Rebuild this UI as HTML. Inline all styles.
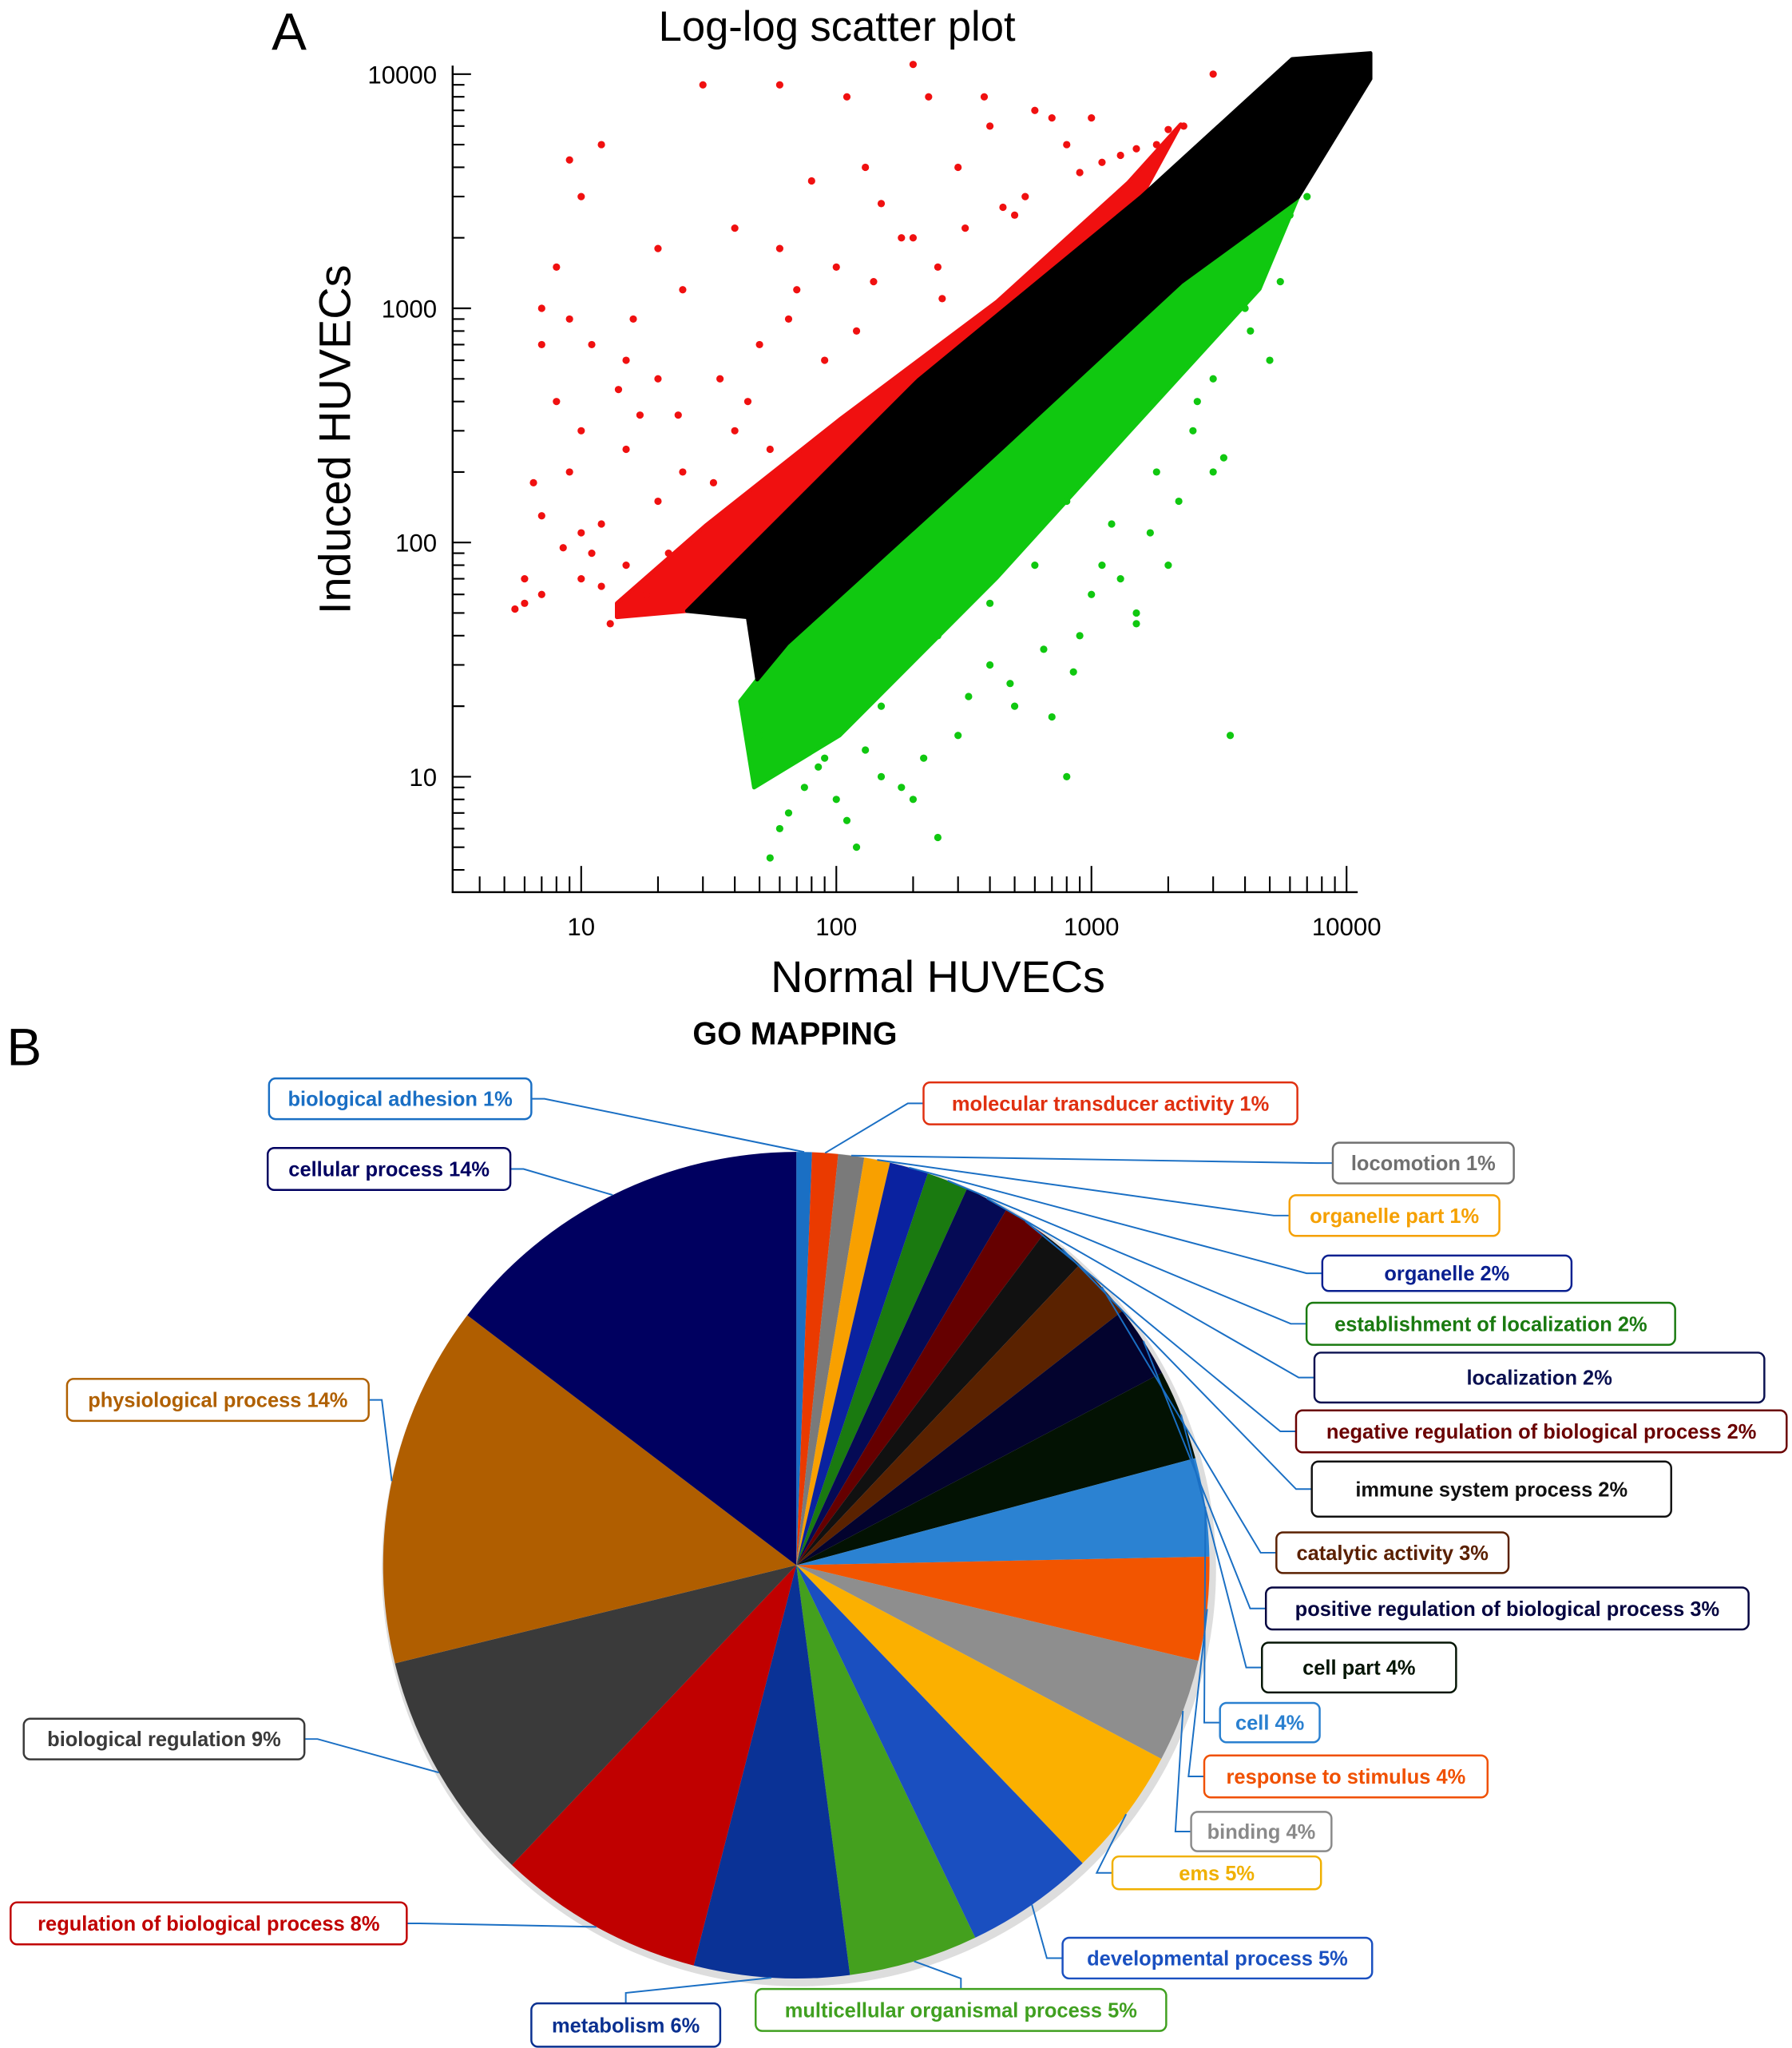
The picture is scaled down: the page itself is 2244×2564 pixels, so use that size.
<!DOCTYPE html>
<html><head><meta charset="utf-8"><style>
html,body{margin:0;padding:0;background:#fff}
svg{display:block}
text{font-family:"Liberation Sans",sans-serif}
.lb{font-family:"Liberation Sans",sans-serif;font-weight:bold;font-size:15.5px}
</style></head><body>
<svg id="s" width="2244" height="2564" viewBox="0 0 1366 1561" xmlns="http://www.w3.org/2000/svg">
<rect width="1366" height="1561" fill="#fff"/>
<text x="207" y="38" font-size="40">A</text>
<text x="638" y="31" font-size="32" text-anchor="middle">Log-log scatter plot</text>
<text transform="translate(267,335) rotate(-90)" font-size="34" text-anchor="middle">Induced HUVECs</text>
<text x="715" y="756" font-size="34" text-anchor="middle">Normal HUVECs</text>
<g id="scatter"></g>
<text x="5" y="812" font-size="40">B</text>
<text x="606" y="796" font-size="24" font-weight="bold" text-anchor="middle" font-family="DejaVu Sans,sans-serif">GO MAPPING</text>
<g id="pie"></g>
<g id="labels"></g>
</svg>
<script>
// ---- scatter data (normal, induced) ----
const blackBandN=[26,209,1567,6120,12400,12400,6460,2240,427,64,49,45];
const blackBandI=[51,492,2990,11600,12300,9550,2990,1290,242,37,26,48];
const redBandN=[13.8,31,103,427,1390,2240,1567,209,26,13.8];
const redBandI=[55,119,335,1070,3430,6100,2990,492,51,48];
const greenBandN=[47.6,103,427,1390,4560,6460,2240,427,64,49,42];
const greenBandI=[9,15,71,293,1210,2990,1290,242,37,26,21];
const redN=[6,6,7,7,8,9,10,12,30,60,200,3000,8,10,15,20,25,40,60,80,100,150,200,300,400,600,800,1000,12,15,18,20,9,11,7,35,50,20,15,120,250,500,40,25,70,130,7,16,5.5,10,13,22,110,230,380,700,1300,1800,2300,9,11,14,17,6.5,8.5,10,12,24,33,45,55,65,90,140,180,260,320,450,550,900,1100,1500,2000];
const redI=[55,70,130,700,1500,4300,3000,5000,9000,9000,11000,10000,400,300,250,1800,1200,2200,1800,3500,1500,2800,2000,4000,6000,7000,5000,6500,120,80,60,150,200,90,60,500,700,500,600,800,1500,2500,300,200,1200,4000,1000,900,52,110,45,90,8000,8000,8000,6500,4500,5000,6000,900,700,450,350,180,95,70,65,350,180,400,250,900,600,1300,2000,1100,2200,2700,3000,3800,4200,4800,5800];
const greenN=[55,60,120,250,800,3500,1500,2000,3000,5000,4000,6000,7000,500,300,200,100,90,150,400,700,1000,1200,2500,50,45,70,600,900,1800,3000,800,150,250,400,1100,1500,2200,3300,5500,65,75,85,110,130,180,220,330,480,650,850,1300,1700,2600,4200];
const greenI=[4.5,6,5,5.5,10,15,45,80,200,600,1000,2500,3000,20,15,8,8,12,10,30,18,60,120,300,15,20,30,80,40,200,500,150,20,40,55,80,50,150,230,1300,7,9,11,6.5,13,9,12,22,25,35,28,70,110,400,800];
const xTickVals=[10,100,1000,10000];
const yTickVals=[10,100,1000,10000];
const NS='http://www.w3.org/2000/svg';
function X(v){return 443+194.5*(Math.log10(v)-1);}
function Y(v){return 592-178.5*(Math.log10(v)-1);}
function mk(tag,attrs,parent){const e=document.createElementNS(NS,tag);for(const k in attrs)e.setAttribute(k,attrs[k]);parent.appendChild(e);return e;}
const sc=document.getElementById('scatter');
function band(ns,is,col,name){
  const pts=ns.map((n,i)=>X(n).toFixed(1)+','+Y(is[i]).toFixed(1)).join(' ');
  const p=mk('polygon',{points:pts,fill:col,stroke:col,'stroke-width':3,'stroke-linejoin':'round'},sc);
  
  
}
band(redBandN,redBandI,'#f01010','up-regulated-dense-region');
band(greenBandN,greenBandI,'#10c810','down-regulated-dense-region');
band(blackBandN,blackBandI,'#000','unchanged-genes-region');
function pts(ns,is,col,name){
  ns.forEach((n,i)=>{const c=mk('circle',{cx:X(n),cy:Y(is[i]),r:2.8,fill:col},sc);
    
    });
}
pts(redN,redI,'#f01010','up-regulated-point');
pts(greenN,greenI,'#10c810','down-regulated-point');
const ax=mk('path',{d:'M345,50 V680 H1035',fill:'none',stroke:'#000','stroke-width':1.5},sc);


let d='';
for(let dec=1;dec<=10000;dec*=10){for(let m=1;m<10;m++){const v=dec*m;
  if(v>3.1&&v<=12500){const x=X(v);d+='M'+x+',680 V'+(680-(m==1?20:12));}
  if(v>3.2&&v<=10000){const y=Y(v);d+='M345,'+y+' H'+(345+(m==1?14:9));}
}}
const tk=mk('path',{d:d,stroke:'#000','stroke-width':1.3,fill:'none'},sc);


xTickVals.forEach(v=>{const t=mk('text',{x:X(v),y:713,'font-size':19,'text-anchor':'middle'},sc);t.textContent=String(v);
  
  });
yTickVals.forEach(v=>{const t=mk('text',{x:333,y:Y(v)+7,'font-size':19,'text-anchor':'end'},sc);t.textContent=String(v);
  
  });

// ---- pie data ----
const pieCats=['biological adhesion 1%','molecular transducer activity 1%','locomotion 1%','organelle part 1%','organelle 2%','establishment of localization  2%','localization  2%','negative regulation of biological  process 2%','immune system process 2%','catalytic activity  3%','positive regulation of biological  process 3%','cell part 4%','cell 4%','response to stimulus 4%','binding 4%','ems 5%','developmental process 5%','multicellular organismal process 5%','metabolism 6%','regulation of biological  process 8%','biological  regulation 9%','physiological  process 14%','cellular process 14%'];
const pieVals=[0.6,1,1,1,1.5,1.6,1.7,1.7,1.8,2.4,2.8,3.5,3.8,4,4,5,5,5,6,8,9,14,14.5];
const pieColors=['#1a6fc4','#ea3a00','#7a7a7a','#f8a000','#0a22a0','#1a7a10','#050a55','#650000','#111111','#5a2200','#03032e','#031203','#2b82d2','#f25500','#8e8e8e','#fbb000','#1a4fc0','#44a01e','#0a3296','#c00000','#3a3a3a','#b05e00','#000060'];
const cx=607,cy=1193,R=315;
const pie=document.getElementById('pie');
const sh=mk('circle',{cx:cx+2,cy:cy+3,r:R+3,fill:'#ddd'},pie);


const tot=pieVals.reduce((a,b)=>a+b,0);
let a0=0;const mids=[];
pieVals.forEach((v,i)=>{
  const a1=a0+v/tot*2*Math.PI;
  const x0=cx+R*Math.sin(a0),y0=cy-R*Math.cos(a0),x1=cx+R*Math.sin(a1),y1=cy-R*Math.cos(a1);
  const p=mk('path',{d:`M${cx},${cy} L${x0},${y0} A${R},${R} 0 ${a1-a0>Math.PI?1:0} 1 ${x1},${y1} Z`,fill:pieColors[i]},pie);
  
  
  mids.push((a0+a1)/2);a0=a1;
});
const boxes=[[205,822,405,853,'#1a6fc4','r'],[704,825,989,857,'#e03010','l'],[1016,871,1154,902,'#707070','l'],[983,911,1143,942,'#f5a000','l'],[1008,957,1198,984,'#0a2090','l'],[996,993,1277,1025,'#1a7a10','l'],[1002,1031,1345,1069,'#0a1050','l'],[988,1075,1362,1107,'#6a0000','l'],[1000,1114,1274,1156,'#111','l'],[973,1168,1150,1199,'#5a2000','l'],[965,1210,1333,1242,'#050540','l'],[962,1252,1110,1290,'#051505','l'],[930,1298,1006,1328,'#2a80d0','l'],[918,1338,1134,1370,'#f05000','l'],[908,1381,1015,1411,'#8a8a8a','l'],[848,1415,1007,1440,'#f0b000','l'],[810,1477,1046,1508,'#1a50c0','l'],[576,1516,889,1548,'#40a020','t'],[405,1527,549,1560,'#0a3090','t'],[8,1450,310,1482,'#c00000','r'],[18,1310,232,1341,'#3a3a3a','r'],[51,1051,281,1083,'#b06000','r'],[204,875,389,907,'#000060','r']];
const lg=document.getElementById('labels');
boxes.forEach((b,i)=>{
  const [x1,y1,x2,y2,col,side]=b;const my=(y1+y2)/2;
  let ax0,ay0,ax1;
  if(side==='l'){ax0=x1;ay0=my;ax1=x1-12;}else if(side==='r'){ax0=x2;ay0=my;ax1=x2+10;}else{ax0=(x1+x2)/2;ay0=y1;ax1=ax0;}
  const m=mids[i];const ex=cx+R*Math.sin(m),ey=cy-R*Math.cos(m);
  const ln=mk('polyline',{points:`${ax0},${ay0} ${ax1},${side==='t'?ay0-8:ay0} ${ex},${ey}`,fill:'none',stroke:'#1a6fc4','stroke-width':1.2},lg);
  
  
  const r=mk('rect',{x:x1,y:y1,width:x2-x1,height:y2-y1,rx:5,fill:'#fff',stroke:col,'stroke-width':1.5},lg);
  
  
  const t=mk('text',{x:(x1+x2)/2,y:my+5.5,'text-anchor':'middle',fill:col,class:'lb'},lg);
  t.textContent=pieCats[i];
  
  
});
</script>
</body></html>
